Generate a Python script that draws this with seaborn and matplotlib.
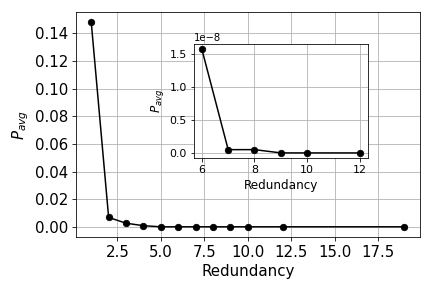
import matplotlib
matplotlib.use("Agg")
import matplotlib.pyplot as plt
import matplotlib.ticker as mticker
import seaborn as sns
import pandas as pd

redundancy = [1, 2, 3, 4, 5, 6, 7, 8, 9, 10, 12, 19]
p_avg = [0.148, 0.0068, 0.0026, 0.0008, 2e-6, 1.57e-8, 5e-10, 5e-10, 5e-12, 2e-12, 1e-12, 1e-15]

inset_red = [6, 7, 8, 9, 10, 12]
inset_p = [1.57e-8, 5e-10, 5e-10, 5e-12, 2e-12, 1e-12]

sns.set_style("white")
plt.rcParams['font.family'] = ['DejaVu Sans']
plt.rcParams['text.color'] = 'black'
plt.rcParams['axes.labelcolor'] = 'black'
plt.rcParams['xtick.color'] = 'black'
plt.rcParams['ytick.color'] = 'black'

df = pd.DataFrame({"Redundancy": redundancy, "P": p_avg})
dfi = pd.DataFrame({"Redundancy": inset_red, "P": inset_p})

fig, ax = plt.subplots(figsize=(6, 4), dpi=72)
sns.lineplot(data=df, x="Redundancy", y="P", marker="o", color="black", ax=ax,
             markersize=6.5, markeredgecolor="black")
ax.grid(True, color="#b0b0b0", linewidth=0.8)
ax.xaxis.set_major_locator(mticker.MultipleLocator(2.5))
ax.yaxis.set_major_locator(mticker.MultipleLocator(0.02))
ax.set_xlabel("Redundancy", fontsize=15)
ax.set_ylabel("$P_{avg}$", fontsize=15)
ax.tick_params(labelsize=15, left=True, bottom=True, length=4)
for s in ax.spines.values():
    s.set_color("black")
    s.set_linewidth(0.8)

fig.subplots_adjust(left=0.175, right=0.972, top=0.958, bottom=0.177)

ins = fig.add_axes([0.449, 0.451, 0.402, 0.396])
sns.lineplot(data=dfi, x="Redundancy", y="P", marker="o", color="black", ax=ins,
             markersize=6.5, markeredgecolor="black")
ins.grid(True, color="#b0b0b0", linewidth=0.8)
ins.set_xlabel("Redundancy", fontsize=12)
ins.set_ylabel("$P_{avg}$", fontsize=12)
ins.tick_params(labelsize=11, left=True, bottom=True, length=3.5)
ins.set_xticks([6, 8, 10, 12])
for s in ins.spines.values():
    s.set_color("black")
    s.set_linewidth(0.8)

fig.savefig("out.png", dpi=72)
